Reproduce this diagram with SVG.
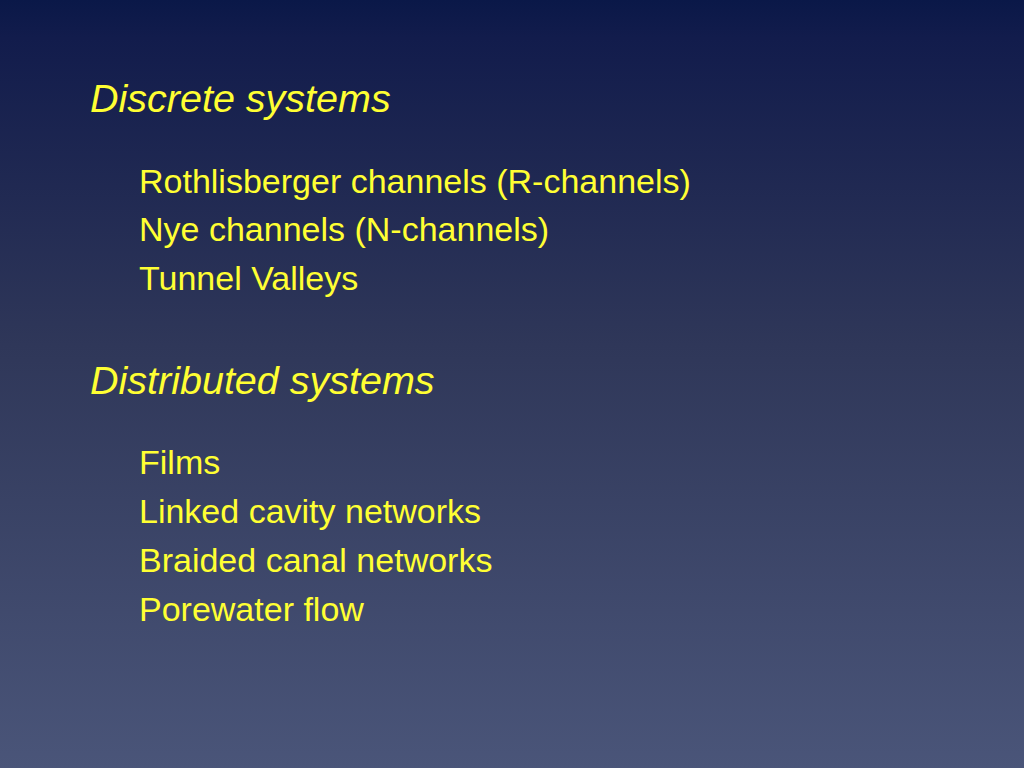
<svg xmlns="http://www.w3.org/2000/svg" width="1024" height="768" viewBox="0 0 1024 768">
<defs>
<linearGradient id="bg" x1="0" y1="0" x2="0" y2="1">
<stop offset="0" stop-color="#0a1848"/>
<stop offset="0.05" stop-color="#121c4c"/>
<stop offset="0.45" stop-color="#2f3759"/>
<stop offset="1" stop-color="#4a5579"/>
</linearGradient>
<style>
.h{font-family:"Liberation Sans",Arial,sans-serif;font-style:italic;font-size:39.5px;fill:#ffff33}
.i{font-family:"Liberation Sans",Arial,sans-serif;font-size:34px;fill:#ffff33}
</style>
</defs>
<rect width="1024" height="768" fill="url(#bg)"/>
<g id="discrete">
<text class="h" x="90" y="112">Discrete systems</text>
<text class="i" x="139" y="193">Rothlisberger channels (R-channels)</text>
<text class="i" x="139" y="241">Nye channels (N-channels)</text>
<text class="i" x="139" y="290">Tunnel Valleys</text>
</g>
<g id="distributed">
<text class="h" x="90" y="394">Distributed systems</text>
<text class="i" x="139" y="474">Films</text>
<text class="i" x="139" y="523">Linked cavity networks</text>
<text class="i" x="139" y="572">Braided canal networks</text>
<text class="i" x="139" y="621">Porewater flow</text>
</g>
</svg>
